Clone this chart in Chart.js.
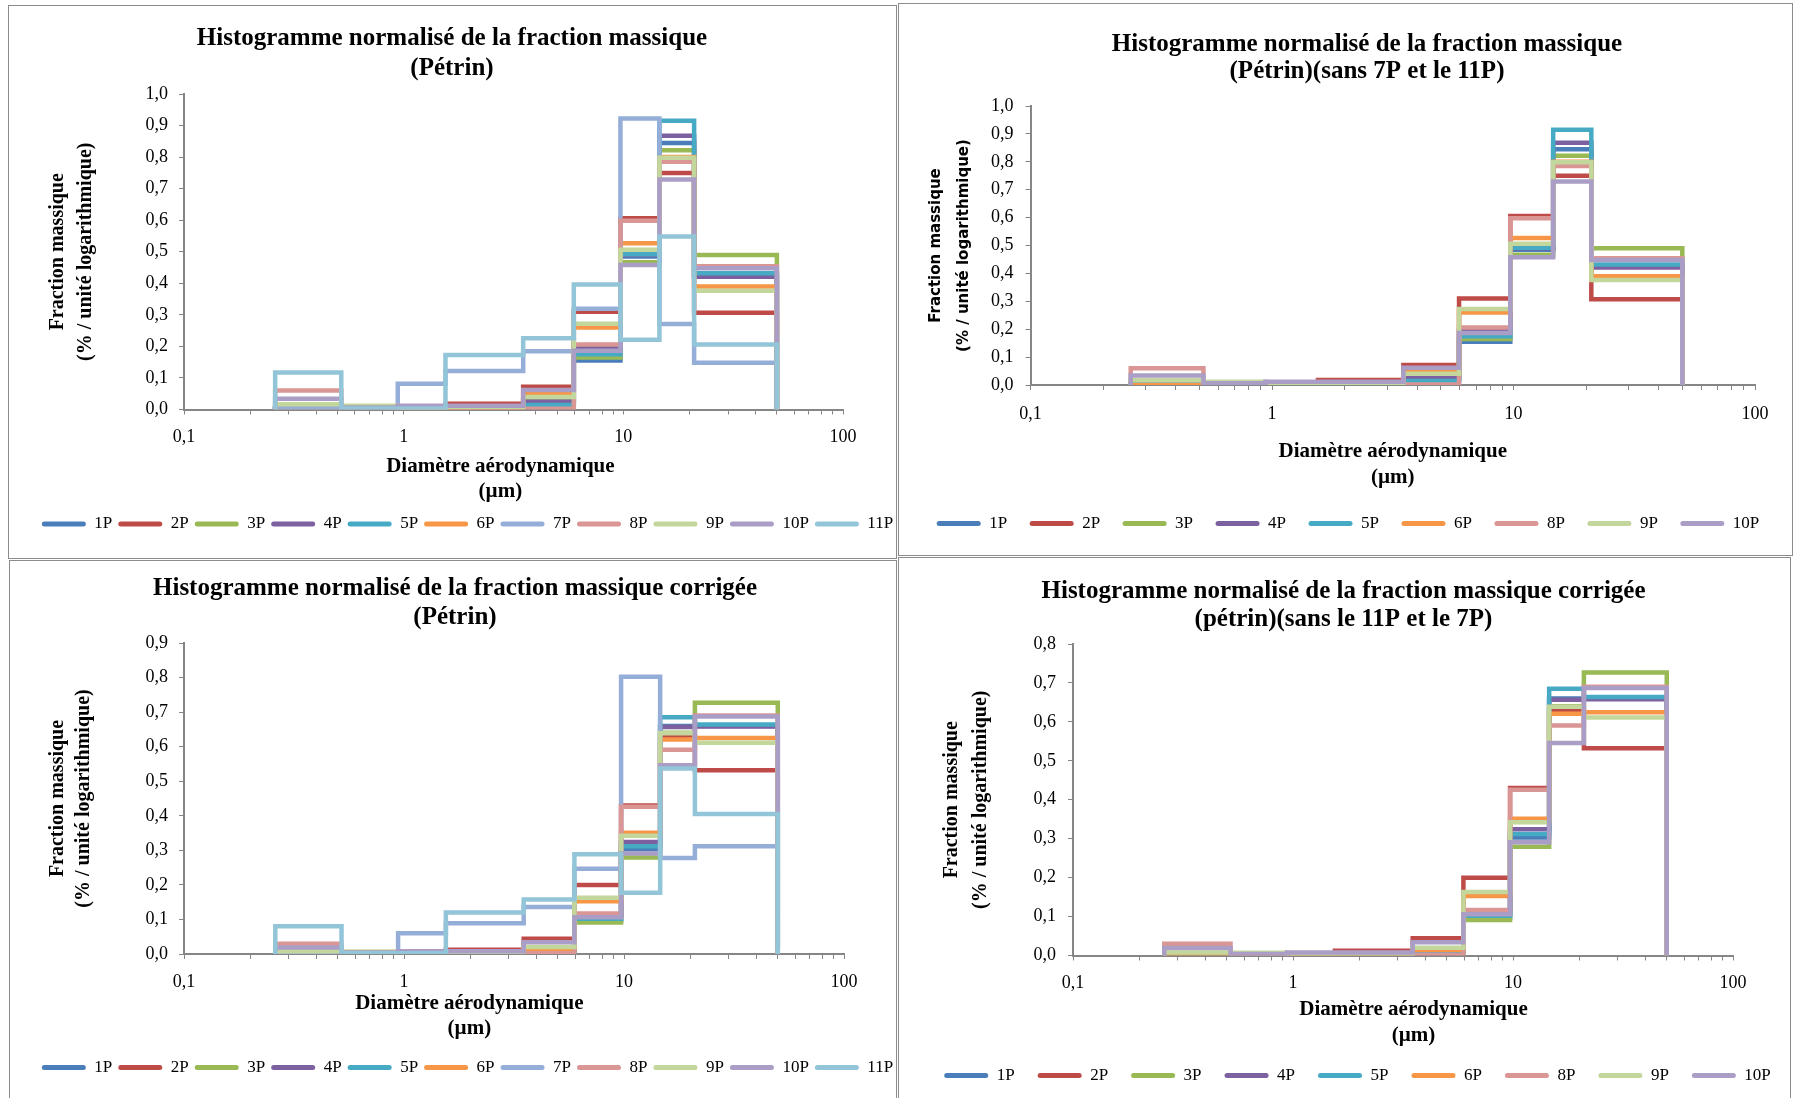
<!DOCTYPE html>
<html>
<head>
<meta charset="utf-8">
<script src="https://cdn.jsdelivr.net/npm/chart.js@4.4.1/dist/chart.umd.min.js"></script>
<style>
  html, body { margin: 0; padding: 0; background: #fff; width: 1794px; height: 1098px; overflow: hidden; }
  .frame { position: absolute; border: 1px solid #8c8c8c; box-sizing: border-box; }
  canvas { position: absolute; }
</style>
</head>
<body>
<div class="frame" style="left:8px;top:5px;width:889px;height:554px"></div>
<div class="frame" style="left:898px;top:3px;width:895px;height:553px"></div>
<div class="frame" style="left:9px;top:560px;width:888px;height:545px"></div>
<div class="frame" style="left:898px;top:557px;width:893px;height:545px"></div>

<canvas id="c1" width="888" height="552" style="left:8px;top:6px"></canvas>
<canvas id="c2" width="938" height="551" style="left:898px;top:4px"></canvas>
<canvas id="c3" width="892" height="537" style="left:9px;top:561px"></canvas>
<canvas id="c4" width="891" height="540" style="left:898px;top:558px"></canvas>

<script>
// bin edges of the impactor stages (µm)
const edges = [0.26, 0.52, 0.94, 1.55, 3.5, 5.95, 9.7, 14.6, 21, 50];

const seriesNames = ['1P', '2P', '3P', '4P', '5P', '6P', '7P', '8P', '9P', '10P', '11P'];
const seriesColors = ['#4a7ebb', '#be4b48', '#98b954', '#7d60a0', '#46aac5', '#f79646',
                      '#95aed8', '#d99694', '#c3d69b', '#ab9ec6', '#93c5d9'];

// normalised mass fraction, one value per bin
const raw1P  = [0.003, 0.005, 0.005, 0.008, 0.020, 0.155, 0.485, 0.845, 0.425];
const raw2P  = [0.005, 0.005, 0.008, 0.018, 0.072, 0.310, 0.606, 0.750, 0.307];
const raw3P  = [0.004, 0.006, 0.005, 0.008, 0.030, 0.165, 0.467, 0.822, 0.490];
const raw4P  = [0.003, 0.004, 0.006, 0.010, 0.025, 0.196, 0.490, 0.868, 0.421];
const raw5P  = [0.003, 0.004, 0.005, 0.008, 0.014, 0.175, 0.492, 0.915, 0.432];
const raw6P  = [0.000, 0.004, 0.004, 0.005, 0.049, 0.260, 0.527, 0.800, 0.390];
const raw7P  = [0.004, 0.003, 0.082, 0.122, 0.185, 0.319, 0.922, 0.271, 0.148];
const raw8P  = [0.060, 0.005, 0.002, 0.002, 0.002, 0.206, 0.598, 0.785, 0.454];
const raw9P  = [0.017, 0.012, 0.005, 0.008, 0.040, 0.272, 0.506, 0.798, 0.376];
const raw10P = [0.034, 0.006, 0.012, 0.012, 0.062, 0.186, 0.458, 0.729, 0.448];
const raw11P = [0.117, 0.003, 0.003, 0.173, 0.226, 0.396, 0.221, 0.548, 0.206];

// corrected normalised mass fraction
const corr1P  = [0.002, 0.004, 0.004, 0.005, 0.010, 0.098, 0.303, 0.660, 0.660];
const corr2P  = [0.004, 0.004, 0.005, 0.012, 0.044, 0.200, 0.430, 0.630, 0.532];
const corr3P  = [0.003, 0.004, 0.004, 0.005, 0.015, 0.091, 0.279, 0.640, 0.727];
const corr4P  = [0.002, 0.003, 0.004, 0.006, 0.012, 0.110, 0.324, 0.657, 0.658];
const corr5P  = [0.002, 0.003, 0.004, 0.005, 0.008, 0.102, 0.312, 0.685, 0.664];
const corr6P  = [0.000, 0.003, 0.003, 0.003, 0.015, 0.153, 0.351, 0.621, 0.625];
const corr7P  = [0.002, 0.002, 0.060, 0.089, 0.136, 0.247, 0.802, 0.278, 0.312];
const corr8P  = [0.030, 0.004, 0.002, 0.001, 0.002, 0.117, 0.426, 0.591, 0.690];
const corr9P  = [0.008, 0.007, 0.004, 0.005, 0.020, 0.163, 0.342, 0.639, 0.611];
const corr10P = [0.019, 0.004, 0.008, 0.008, 0.034, 0.106, 0.291, 0.546, 0.687];
const corr11P = [0.080, 0.002, 0.002, 0.120, 0.158, 0.289, 0.177, 0.537, 0.405];

const rawValues = [raw1P, raw2P, raw3P, raw4P, raw5P, raw6P, raw7P, raw8P, raw9P, raw10P, raw11P];
const corrValues = [corr1P, corr2P, corr3P, corr4P, corr5P, corr6P, corr7P, corr8P, corr9P, corr10P, corr11P];

const decades = [0.1, 1, 10, 100];
const decadeLabels = ['0,1', '1', '10', '100'];
const minorSteps = [2, 3, 4, 5, 6, 7, 8, 9];
const xTickValues = decades.concat(decades.slice(0, -1).flatMap(d => minorSteps.map(k => k * d)));

const allSeries = [0, 1, 2, 3, 4, 5, 6, 7, 8, 9, 10];
const without7and11 = [0, 1, 2, 3, 4, 5, 7, 8, 9];

const SERIF = '"Liberation Serif", "Times New Roman", serif';
const AXIS = '#868686';
const nb = n => '\u00a0'.repeat(n);

// histogram outline: up at the first edge, across each bin, down at the last edge
function stepPoints(vals) {
  const pts = [{ x: edges[0], y: 0 }];
  vals.forEach((v, i) => {
    pts.push({ x: edges[i], y: v }, { x: edges[i + 1], y: v });
  });
  pts.push({ x: edges[edges.length - 1], y: 0 });
  return pts;
}

const legendShift = {
  id: 'legendShift',
  afterLayout(chart, args, opts) {
    if (chart.legend && opts.dx) {
      chart.legend.left += opts.dx;
      chart.legend.right += opts.dx;
    }
  }
};

function makeChart(p) {
  const datasets = p.keep.map(i => ({
    label: seriesNames[i],
    data: stepPoints(p.values[i]),
    borderColor: seriesColors[i],
    backgroundColor: seriesColors[i],
    borderWidth: 4.5,
    pointRadius: 0,
    fill: false,
    tension: 0,
    order: -i
  }));

  return new Chart(document.getElementById(p.id), {
    type: 'line',
    data: { datasets },
    options: {
      responsive: false,
      animation: false,
      events: [],
      layout: { padding: { left: 0, right: 0, top: 0, bottom: p.layoutBottom } },
      plugins: {
        title: {
          display: true,
          text: p.title,
          color: '#000',
          font: { family: SERIF, size: 25, weight: 'bold', lineHeight: p.titleLH + 'px' },
          padding: { top: p.titleTop, bottom: p.titleBottom }
        },
        legend: {
          position: 'bottom',
          labels: {
            boxWidth: 44,
            boxHeight: 5,
            padding: p.legendPad,
            color: '#000',
            font: { family: SERIF, size: 17 },
            useBorderRadius: true,
            borderRadius: 2.5,
            sort: (a, b) => a.datasetIndex - b.datasetIndex,
            generateLabels: chart =>
              Chart.defaults.plugins.legend.labels.generateLabels(chart)
                .map(l => Object.assign(l, { lineWidth: 0 }))
          }
        },
        tooltip: { enabled: false },
        legendShift: { dx: p.legendDx }
      },
      scales: {
        x: {
          type: 'logarithmic',
          min: 0.1,
          max: 100,
          afterBuildTicks: s => { s.ticks = xTickValues.map(v => ({ value: v })); },
          afterFit: s => { s.height = p.xHeight; },
          ticks: {
            autoSkip: false,
            maxRotation: 0,
            padding: p.xTickPad,
            color: '#000',
            font: { family: SERIF, size: 18 },
            callback: v => {
              const k = decades.indexOf(v);
              return k >= 0 ? decadeLabels[k] : '';
            }
          },
          grid: { drawOnChartArea: false, drawTicks: true, tickLength: 5, color: AXIS },
          border: { color: AXIS, width: 2 },
          title: {
            display: true,
            text: p.xTitle,
            color: '#000',
            font: { family: SERIF, size: 21, weight: 'bold', lineHeight: p.xTitleLH + 'px' },
            padding: { top: 0, bottom: p.xTitleBottom }
          }
        },
        y: {
          min: 0,
          max: p.yMax,
          afterFit: s => { s.width = p.yWidth; },
          ticks: {
            stepSize: 0.1,
            padding: p.yTickPad,
            color: '#000',
            font: { family: SERIF, size: 18 },
            callback: v => v.toFixed(1).replace('.', ',')
          },
          grid: { drawOnChartArea: false, drawTicks: true, tickLength: 5, color: AXIS },
          border: { color: AXIS, width: 2 },
          title: {
            display: true,
            text: ['Fraction massique', '(% / unité logarithmique)'],
            color: '#000',
            font: { family: p.yTitleFont, size: p.yTitleSize, weight: 'bold', lineHeight: p.yTitleLH + 'px' },
            padding: { top: p.yTitleTop, bottom: 0 }
          }
        },
        yRight: {
          type: 'linear',
          position: 'right',
          display: true,
          grid: { display: false },
          border: { display: false },
          ticks: { display: false },
          afterFit: s => { s.width = p.rightWidth; }
        }
      }
    },
    plugins: [legendShift]
  });
}

makeChart({
  id: 'c1', values: rawValues, keep: allSeries, yMax: 1.0,
  title: ['Histogramme normalisé de la fraction massique', '(Pétrin)'],
  titleLH: 30, titleTop: 18, titleBottom: 10,
  yWidth: 176, rightWidth: 53,
  layoutBottom: 15.5, legendPad: 6, legendDx: 15.5,
  xHeight: 100, xTickPad: 12.4, xTitleLH: 25.5, xTitleBottom: 5,
  xTitle: ['Diamètre aérodynamique' + nb(5), '(µm)' + nb(5)],
  yTickPad: 11, yTitleFont: SERIF, yTitleSize: 20, yTitleLH: 28, yTitleTop: 36
});

makeChart({
  id: 'c2', values: rawValues, keep: without7and11, yMax: 1.0,
  title: ['Histogramme normalisé de la fraction massique', '(Pétrin)(sans 7P et le 11P)'],
  titleLH: 27, titleTop: 27, titleBottom: 21,
  yWidth: 132.5, rightWidth: 81,
  layoutBottom: 13, legendPad: 22.5, legendDx: -19,
  xHeight: 107.5, xTickPad: 13.2, xTitleLH: 26, xTitleBottom: 1.5,
  xTitle: ['Diamètre aérodynamique', '(µm)'],
  yTickPad: 12, yTitleFont: '"DejaVu Sans", Verdana, sans-serif', yTitleSize: 15, yTitleLH: 28.5, yTitleTop: 23.75
});

makeChart({
  id: 'c3', values: corrValues, keep: allSeries, yMax: 0.9,
  title: ['Histogramme normalisé de la fraction massique corrigée', '(Pétrin)'],
  titleLH: 29, titleTop: 13.5, titleBottom: 10.5,
  yWidth: 175, rightWidth: 57,
  layoutBottom: 12, legendPad: 6, legendDx: 12.5,
  xHeight: 99, xTickPad: 12.7, xTitleLH: 25.5, xTitleBottom: 11.5,
  xTitle: ['Diamètre aérodynamique' + nb(17), '(µm)' + nb(17)],
  yTickPad: 11, yTitleFont: SERIF, yTitleSize: 20, yTitleLH: 26, yTitleTop: 35.5
});

makeChart({
  id: 'c4', values: corrValues, keep: without7and11, yMax: 0.8,
  title: ['Histogramme normalisé de la fraction massique corrigée', '(pétrin)(sans le 11P et le 7P)'],
  titleLH: 28.5, titleTop: 19.25, titleBottom: 9.75,
  yWidth: 175, rightWidth: 56,
  layoutBottom: 4, legendPad: 23, legendDx: 14,
  xHeight: 88.5, xTickPad: 12.2, xTitleLH: 26, xTitleBottom: -5,
  xTitle: [nb(4) + 'Diamètre aérodynamique', nb(4) + '(µm)'],
  yTickPad: 12, yTitleFont: SERIF, yTitleSize: 20, yTitleLH: 29, yTitleTop: 39.5
});
</script>
</body>
</html>
